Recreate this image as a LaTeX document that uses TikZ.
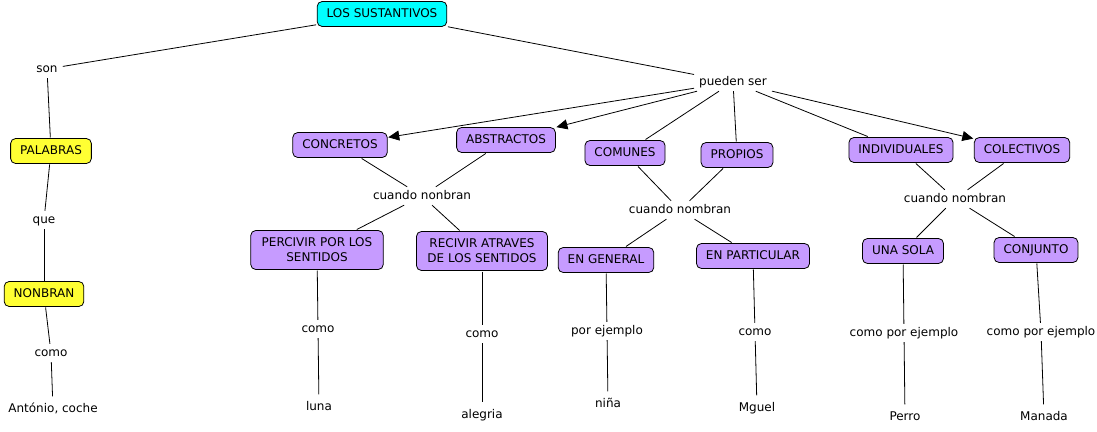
\documentclass[tikz,border=0pt]{standalone}
\usepackage{fontspec}
\setmainfont{DejaVu Sans}
\usepackage{xcolor}
\usepackage{tikz}
\usetikzlibrary{arrows.meta,positioning}

\definecolor{conceptcyan}{RGB}{0,255,255}
\definecolor{conceptyellow}{RGB}{255,255,51}
\definecolor{conceptlila}{RGB}{198,155,255}

\begin{document}
\begin{tikzpicture}[
    x=1pt, y=-1pt,
    font=\fontsize{12}{15}\selectfont,
    concept/.style={rectangle, draw, rounded corners=5pt, fill=conceptlila, line width=0.8pt,
                    minimum height=25pt, inner xsep=9.5pt, inner ysep=3pt, outer sep=1pt,
                    text height=9pt, text depth=3pt, align=center},
    twoline/.style={concept, text height=, text depth=, minimum height=39pt, inner xsep=11pt},
    leaf/.style ={rectangle, minimum height=25pt, inner xsep=8pt, text height=9pt, text depth=3pt},
    link/.style ={rectangle, inner xsep=5pt, inner ysep=3pt, text height=9pt, text depth=3pt},
    con/.style  ={line width=0.8pt},
    arr/.style  ={con, -{Triangle[length=11pt,width=10pt]}}
]
  \useasboundingbox (0,0) rectangle (1097,431);

  % concepts
  \node[concept, fill=conceptcyan] (sust) at (382,14) {LOS SUSTANTIVOS};
  \node[concept, fill=conceptyellow] (palabras) at (51,151) {PALABRAS};
  \node[concept, fill=conceptyellow] (nonbran)  at (44,294) {NONBRAN};
  \node[concept] (concretos)    at (340,145) {CONCRETOS};
  \node[concept] (abstractos)   at (506,140) {ABSTRACTOS};
  \node[concept] (comunes)      at (625,153) {COMUNES};
  \node[concept] (propios)      at (737,155) {PROPIOS};
  \node[concept] (individuales) at (901,150) {INDIVIDUALES};
  \node[concept] (colectivos)   at (1022,150) {COLECTIVOS};
  \node[twoline] (percivir)     at (317,250) {PERCIVIR POR LOS\\SENTIDOS};
  \node[twoline] (recivir)      at (482,251) {RECIVIR ATRAVES\\DE LOS SENTIDOS};
  \node[concept] (general)      at (606,260) {EN GENERAL};
  \node[concept] (particular)   at (753,256) {EN PARTICULAR};
  \node[concept] (sola)         at (903,251) {UNA SOLA};
  \node[concept] (conjunto)     at (1036,250) {CONJUNTO};

  % linking phrases
  \node[link] (son)    at (47,69)   {son};
  \node[link] (que)    at (44,220)  {que};
  \node[link] (comoA)  at (51,353)  {como};
  \node[link] (pueden) at (733,82)  {pueden ser};
  \node[link] (cuandoA) at (422,196) {cuando nonbran};
  \node[link] (cuandoB) at (680,210) {cuando nombran};
  \node[link] (cuandoC) at (955,199) {cuando nombran};
  \node[link] (comoB)  at (318,329) {como};
  \node[link] (comoC)  at (482,334) {como};
  \node[link] (porej)  at (607,331) {por ejemplo};
  \node[link] (comoD)  at (755,332) {como};
  \node[link] (cpeA)   at (904,333) {como por ejemplo};
  \node[link] (cpeB)   at (1041,332) {como por ejemplo};

  % examples
  \node[leaf] (antonio) at (53,409)   {António, coche};
  \node[leaf] (luna)    at (319,407)  {luna};
  \node[leaf] (alegria) at (482,415)  {alegria};
  \node[leaf] (nina)    at (608,404)  {niña};
  \node[leaf] (mguel)   at (757,408)  {Mguel};
  \node[leaf] (perro)   at (905,417)  {Perro};
  \node[leaf] (manada)  at (1044,417) {Manada};

  % left branch
  \draw[con] (sust) -- (son);
  \draw[con] (son) -- (palabras);
  \draw[con] (palabras) -- (que);
  \draw[con] (que) -- (nonbran);
  \draw[con] (nonbran) -- (comoA);
  \draw[con] (comoA) -- (antonio);

  % pueden ser
  \draw[con] (sust) -- (pueden);
  \draw[arr] (pueden) -- (concretos);
  \draw[arr] (pueden) -- (abstractos);
  \draw[con] (pueden) -- (comunes);
  \draw[con] (pueden) -- (propios);
  \draw[con] (pueden) -- (individuales);
  \draw[arr] (pueden) -- (colectivos);

  % cuando nombran
  \draw[con] (concretos) -- (cuandoA);
  \draw[con] (abstractos) -- (cuandoA);
  \draw[con] (cuandoA) -- (percivir);
  \draw[con] (cuandoA) -- (recivir);
  \draw[con] (comunes) -- (cuandoB);
  \draw[con] (propios) -- (cuandoB);
  \draw[con] (cuandoB) -- (general);
  \draw[con] (cuandoB) -- (particular);
  \draw[con] (individuales) -- (cuandoC);
  \draw[con] (colectivos) -- (cuandoC);
  \draw[con] (cuandoC) -- (sola);
  \draw[con] (cuandoC) -- (conjunto);

  % examples
  \draw[con] (percivir) -- (comoB);   \draw[con] (comoB) -- (luna);
  \draw[con] (recivir) -- (comoC);    \draw[con] (comoC) -- (alegria);
  \draw[con] (general) -- (porej);    \draw[con] (porej) -- (nina);
  \draw[con] (particular) -- (comoD); \draw[con] (comoD) -- (mguel);
  \draw[con] (sola) -- (cpeA);        \draw[con] (cpeA) -- (perro);
  \draw[con] (conjunto) -- (cpeB);    \draw[con] (cpeB) -- (manada);
\end{tikzpicture}
\end{document}
